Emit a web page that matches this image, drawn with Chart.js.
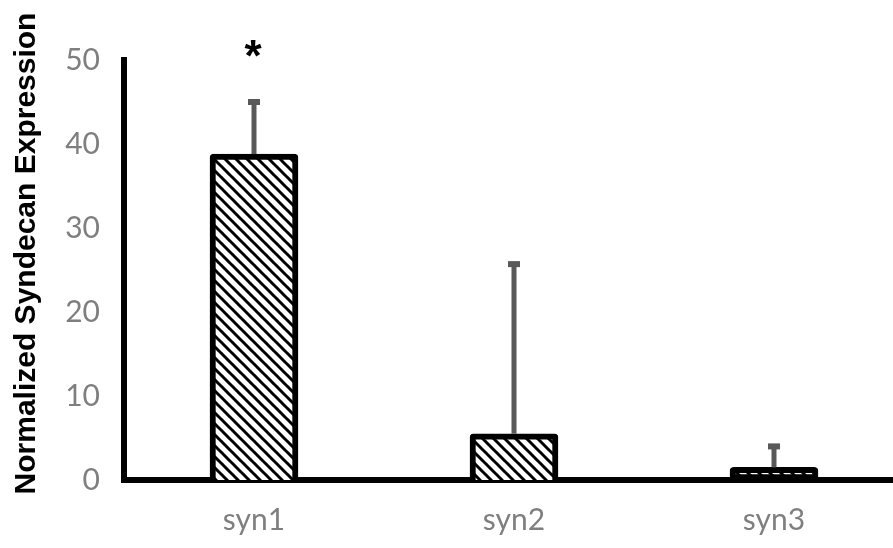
<!DOCTYPE html>
<html>
<head>
<meta charset="utf-8">
<script src="https://cdn.jsdelivr.net/npm/chart.js@4.4.1/dist/chart.umd.min.js"></script>
<style>
  html, body { margin: 0; padding: 0; background: #ffffff; overflow: hidden; }
  #wrap { position: relative; width: 904px; height: 548px; }
</style>
</head>
<body>
<div id="wrap"><canvas id="chart"></canvas></div>
<script>
// Syndecan genes and their normalized expression
const categories = ['syn1', 'syn2', 'syn3'];
const meanExpression = [38.8, 5.5, 1.5];
const errorPlus = [6.2, 20.2, 2.5];
const significance = ['*', '', ''];
const yTickValues = [0, 10, 20, 30, 40, 50];
const yAxisTitle = 'Normalized Syndecan Expression';

// Diagonal hatch fill for the bars
function makeHatch() {
  const s = 11;
  const c = document.createElement('canvas');
  c.width = s; c.height = s;
  const g = c.getContext('2d');
  g.fillStyle = '#ffffff';
  g.fillRect(0, 0, s, s);
  g.strokeStyle = '#000000';
  g.lineWidth = 3;
  for (const off of [-s, 0, s]) {
    g.beginPath();
    g.moveTo(off - 1, -1);
    g.lineTo(off + s + 1, s + 1);
    g.stroke();
  }
  return g.createPattern(c, 'repeat');
}

// Upper error bars and significance marks
const errorBarPlugin = {
  id: 'errorBars',
  afterDatasetsDraw(chart) {
    const ctx = chart.ctx;
    const meta = chart.getDatasetMeta(0);
    const y = chart.scales.y;
    ctx.save();
    meta.data.forEach((bar, i) => {
      const x = bar.x;
      const yTop = y.getPixelForValue(meanExpression[i] + errorPlus[i]);
      const yBase = y.getPixelForValue(meanExpression[i]);
      ctx.strokeStyle = '#595959';
      ctx.lineWidth = 5;
      ctx.lineCap = 'butt';
      ctx.beginPath();
      ctx.moveTo(x, yBase);
      ctx.lineTo(x, yTop);
      ctx.stroke();
      ctx.fillStyle = '#595959';
      ctx.fillRect(x - 6, yTop - 3, 12, 6);
      if (significance[i]) {
        ctx.fillStyle = '#000000';
        ctx.font = 'bold 44px "Liberation Sans", Arial, sans-serif';
        ctx.textAlign = 'center';
        ctx.textBaseline = 'alphabetic';
        ctx.fillText(significance[i], x - 1, yTop - 31);
      }
    });
    ctx.restore();
  },
  afterDraw(chart) {
    const ctx = chart.ctx;
    ctx.save();
    ctx.translate(35, 253.5);
    ctx.rotate(-Math.PI / 2);
    ctx.fillStyle = '#000000';
    ctx.font = 'bold 30px "Liberation Sans", Arial, sans-serif';
    ctx.textAlign = 'center';
    ctx.textBaseline = 'alphabetic';
    ctx.fillText(yAxisTitle, 0, 0);
    ctx.restore();
  }
};

const tickFont = { family: 'Lato, "Open Sans", sans-serif', size: 30 };

new Chart(document.getElementById('chart'), {
  type: 'bar',
  data: {
    labels: categories,
    datasets: [{
      data: meanExpression,
      backgroundColor: makeHatch(),
      borderColor: '#000000',
      borderWidth: 6,
      borderRadius: 4,
      // very short bars get a full outline so they read as a solid block
      borderSkipped: (c) => (c.raw < 2 ? false : 'start'),
      barThickness: 88
    }]
  },
  options: {
    responsive: true,
    maintainAspectRatio: false,
    animation: false,
    layout: { padding: { top: 60, right: 0, bottom: 0, left: 0 } },
    plugins: {
      legend: { display: false },
      tooltip: { enabled: false }
    },
    scales: {
      x: {
        z: 1,
        grid: { display: false, drawTicks: false },
        border: { display: true, color: '#000000', width: 6 },
        ticks: { color: '#7f7f7f', font: tickFont, padding: 22 },
        afterFit(scale) { scale.height = 68; }
      },
      y: {
        min: 0,
        max: 50,
        grid: { display: false, drawTicks: false },
        border: { display: true, color: '#000000', width: 6 },
        afterBuildTicks(scale) { scale.ticks = yTickValues.map(v => ({ value: v })); },
        ticks: { color: '#7f7f7f', font: tickFont, padding: 24 },
        afterFit(scale) { scale.width = 124; }
      }
    }
  },
  plugins: [errorBarPlugin]
});
</script>
</body>
</html>
